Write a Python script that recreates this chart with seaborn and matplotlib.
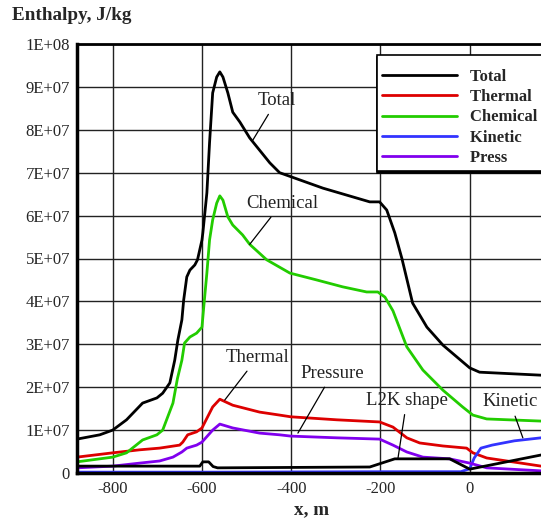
#%%
# Enthalpy components along x
import numpy as np
import pandas as pd
import seaborn as sns
import matplotlib.pyplot as plt
from matplotlib.ticker import MultipleLocator

#%%
# Data (x in m, values in units of 1E7 J/kg)
total_x = [-880, -829, -800, -769, -733, -701, -688, -672, -661, -654, -645, -641, -634, -627,
           -616, -610, -600, -598, -589, -583, -576, -567, -560, -553, -542, -531, -515, -493,
           -448, -426, -399, -329, -224, -202, -186, -168, -152, -128, -96, -60, 0, 22, 160]
total_y = [0.79, 0.89, 1.0, 1.24, 1.63, 1.75, 1.86, 2.1, 2.63, 3.1, 3.57, 4.03, 4.57, 4.73,
           4.85, 4.97, 5.43, 5.6, 6.53, 7.7, 8.86, 9.23, 9.35, 9.23, 8.86, 8.41, 8.18, 7.81,
           7.23, 7.0, 6.9, 6.64, 6.32, 6.32, 6.13, 5.6, 5.0, 3.96, 3.4, 2.98, 2.45, 2.35, 2.28]

chem_x = [-880, -800, -769, -733, -701, -688, -665, -655, -645, -639, -627, -612, -600, -596,
          -589, -583, -576, -567, -560, -553, -542, -531, -509, -493, -455, -403, -343, -285,
          -231, -206, -190, -172, -141, -105, -60, -16, 7, 38, 160]
chem_y = [0.26, 0.37, 0.47, 0.77, 0.89, 1.0, 1.63, 2.2, 2.63, 3.03, 3.17, 3.26, 3.4, 3.87,
          4.66, 5.43, 5.9, 6.29, 6.46, 6.36, 5.97, 5.78, 5.55, 5.33, 4.97, 4.66, 4.5, 4.34,
          4.22, 4.22, 4.1, 3.78, 2.94, 2.4, 1.93, 1.54, 1.35, 1.26, 1.21]

therm_x = [-880, -800, -740, -695, -650, -643, -632, -612, -600, -576, -560, -531, -471, -426,
           -401, -298, -202, -172, -141, -112, -60, -7, 7, 38, 160]
therm_y = [0.37, 0.47, 0.54, 0.58, 0.65, 0.72, 0.89, 0.96, 1.05, 1.54, 1.72, 1.58, 1.42, 1.35,
           1.31, 1.24, 1.19, 1.07, 0.82, 0.7, 0.63, 0.58, 0.47, 0.35, 0.16]

press_x = [-880, -800, -740, -695, -665, -645, -634, -612, -600, -576, -560, -531, -471, -426,
           -401, -298, -202, -172, -141, -105, -45, 0, 38, 160]
press_y = [0.12, 0.16, 0.23, 0.28, 0.37, 0.49, 0.58, 0.65, 0.72, 1.0, 1.14, 1.05, 0.93, 0.89,
           0.86, 0.82, 0.79, 0.65, 0.49, 0.37, 0.33, 0.23, 0.12, 0.05]

kin_x = [-880, -560, -200, -20, 0, 10, 25, 50, 100, 160]
kin_y = [0.02, 0.02, 0.03, 0.03, 0.1, 0.35, 0.58, 0.65, 0.75, 0.82]

shape_x = [-880, -605, -598, -585, -575, -565, -224, -168, -45, 0, 160]
shape_y = [0.16, 0.16, 0.26, 0.26, 0.15, 0.12, 0.14, 0.33, 0.33, 0.09, 0.42]

ytick_vals = [0, 1e7, 2e7, 3e7, 4e7, 5e7, 6e7, 7e7, 8e7, 9e7, 1e8]
ytick_labels = ['0', '1E+07', '2E+07', '3E+07', '4E+07', '5E+07',
                '6E+07', '7E+07', '8E+07', '9E+07', '1E+08']
xtick_vals = [-800, -600, -400, -200, 0]

scale = 1e7

#%%
sns.set_style('white')
plt.rcParams['font.family'] = ['Liberation Serif', 'DejaVu Serif']

fig = plt.figure(figsize=(5.41, 5.24), dpi=100)
ax = fig.add_axes([77/541, 51/524, 482/541, 429/524])

series = [
    ('Total', total_x, total_y, 'black'),
    ('Thermal', therm_x, therm_y, '#dd0000'),
    ('Chemical', chem_x, chem_y, '#22cc00'),
    ('Kinetic', kin_x, kin_y, '#3333ff'),
    ('Press', press_x, press_y, '#8000ee'),
]
handles = []
for name, xs, ys, col in series:
    sns.lineplot(x=np.array(xs), y=np.array(ys) * scale, color=col, lw=2, ax=ax)
    handles.append((ax.get_lines()[-1], name))

# L2K shape, not in legend
sns.lineplot(x=np.array(shape_x), y=np.array(shape_y) * scale, color='black', lw=2, ax=ax)

ax.set_xlim(-880, 200)
ax.set_ylim(0, 1e8)
ax.set_xticks(xtick_vals)
ax.set_xticklabels([str(v) for v in xtick_vals])
ax.set_yticks(ytick_vals)
ax.set_yticklabels(ytick_labels)
ax.xaxis.set_minor_locator(MultipleLocator(50))
ax.yaxis.set_minor_locator(MultipleLocator(2e6))
ax.tick_params(which='major', direction='in', length=10, width=2, labelsize=12, pad=5)
ax.tick_params(which='minor', direction='in', length=6, width=1.5)
ax.tick_params(axis='x', which='major', pad=6)
ax.grid(True, which='major', color='#222222', lw=1)
ax.set_xlabel('')
ax.set_ylabel('')
for side in ['left', 'bottom']:
    ax.spines[side].set_linewidth(2.5)
ax.spines['top'].set_linewidth(2)
ax.spines['right'].set_visible(False)
for s in ax.spines.values():
    s.set_color('black')

# labels with leader lines
notes = [
    ('Total', (-486, 7.76e7), (-432, 8.69e7)),
    ('Chemical', (-493, 5.33e7), (-421, 6.29e7)),
    ('Thermal', (-549, 1.70e7), (-475, 2.70e7)),
    ('Pressure', (-385, 0.93e7), (-307, 2.33e7)),
    ('L2K shape', (-161, 0.33e7), (-141, 1.70e7)),
    ('Kinetic', (119, 0.82e7), (90, 1.66e7)),
]
for txt, tip, pos in notes:
    ax.annotate(txt, xy=tip, xytext=pos, ha='center', va='center', fontsize=13.5,
                color='#222222',
                arrowprops=dict(arrowstyle='-', lw=0.9, color='black', shrinkA=2, shrinkB=0))

# blank tiny title gives the extra room above the first entry;
# trailing spaces make the box run past the right edge like the original
leg = fig.legend([h for h, _ in handles], [n + '     ' for _, n in handles],
                 loc='upper left', bbox_to_anchor=(377/541, 1 - 55/524),
                 borderaxespad=0, prop={'weight': 'bold', 'size': 12}, handlelength=4.5,
                 handletextpad=0.75, labelspacing=0.25, borderpad=0.3,
                 title=' ', title_fontsize=4,
                 fancybox=False, framealpha=1, edgecolor='black',
                 shadow={'ox': 0, 'oy': -1.5, 'color': 'black', 'alpha': 1})
leg.get_frame().set_linewidth(1.2)

fig.text(12/541, 1 - 15/524, 'Enthalpy, J/kg', fontsize=13.8, weight='bold',
         ha='left', va='center')
fig.text(312/541, 1 - 510/524, 'x, m', fontsize=13.8, weight='bold',
         ha='center', va='center')

fig.savefig('out.png', dpi=100)
